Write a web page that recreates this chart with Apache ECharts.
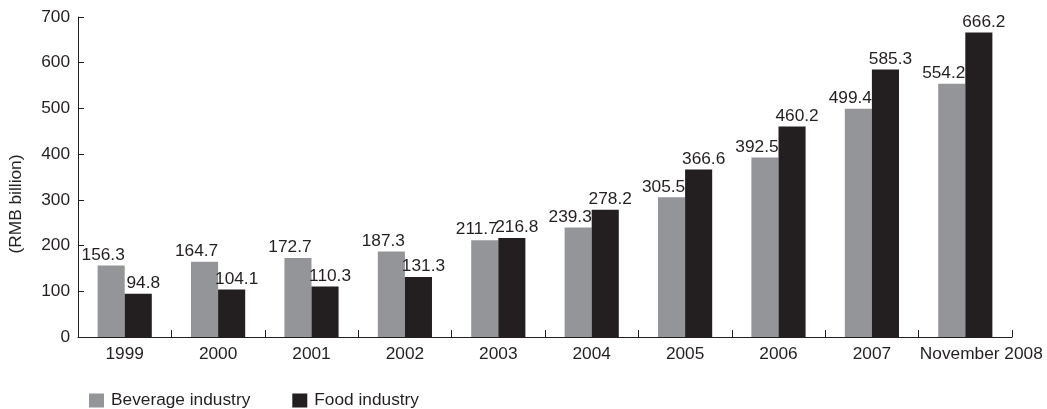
<!DOCTYPE html>
<html><head><meta charset="utf-8">
<script src="https://cdn.jsdelivr.net/npm/echarts@6/dist/echarts.min.js"></script>
<style>html,body{margin:0;padding:0;background:#fff}#c{width:1047px;height:409px}</style>
</head><body><div id="c"></div>
<script>
const categories = ['1999','2000','2001','2002','2003','2004','2005','2006','2007','November 2008'];
const beverage = [156.3,164.7,172.7,187.3,211.7,239.3,305.5,392.5,499.4,554.2];
const food = [94.8,104.1,110.3,131.3,216.8,278.2,366.6,460.2,585.3,666.2];
const FONT = 'Liberation Sans, Arial, Helvetica, sans-serif';
const TXT = '#231f20';
const FS = 17.3;
const chart = echarts.init(document.getElementById('c'));
const mkLbl = dx => ({show:true, position:'top', distance:2, offset:[dx,0], color:TXT, fontSize:FS, fontFamily:FONT, formatter:p=>p.value.toFixed(1)});
chart.setOption({
  animation:false,
  textStyle:{fontFamily:FONT},
  grid:{left:75, right:35, top:17, bottom:72},
  legend:{left:84, top:387, itemWidth:15, itemHeight:14, itemGap:42, icon:'rect',
    textStyle:{color:TXT, fontSize:FS, fontFamily:FONT, padding:[0,0,0,2]},
    data:['Beverage industry','Food industry']},
  xAxis:{type:'category', data:categories,
    axisLine:{lineStyle:{color:TXT, width:1}},
    axisTick:{show:true, inside:true, length:7, lineStyle:{color:TXT}},
    axisLabel:{color:TXT, fontSize:FS, fontFamily:FONT, margin:9, interval:0,
      formatter:(v,i)=> i===categories.length-1 ? '{r|'+v+'}' : v,
      rich:{r:{color:TXT, fontSize:FS, fontFamily:FONT, padding:[0,0,0,32]}}}},
  yAxis:{type:'value', min:0, max:700, interval:100,
    name:'(RMB billion)', nameLocation:'middle', nameGap:53, nameRotate:90,
    nameTextStyle:{color:TXT, fontSize:FS, fontFamily:FONT, padding:[0,54,0,0]},
    axisLine:{show:true, lineStyle:{color:TXT, width:1}},
    axisTick:{show:true, inside:true, length:6, lineStyle:{color:TXT}},
    splitLine:{show:false},
    axisLabel:{color:TXT, fontSize:FS, fontFamily:FONT, margin:8}},
  series:[
    {name:'Beverage industry', type:'bar', data:beverage, barWidth:'29%', barGap:'0%',
      itemStyle:{color:'#939598'}, label:mkLbl(-8)},
    {name:'Food industry', type:'bar', data:food, barWidth:'29%', barGap:'0%',
      itemStyle:{color:'#231f20'}, label:mkLbl(5)}
  ]
});
</script></body></html>
